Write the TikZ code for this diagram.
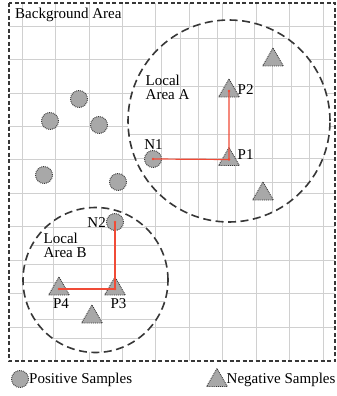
\documentclass[tikz,border=0pt]{standalone}
\usepackage{fontspec}
\setmainfont{Liberation Serif}
\usetikzlibrary{shapes.geometric}
\definecolor{gridgray}{RGB}{208,208,208}
\definecolor{samplegray}{RGB}{168,168,168}
\definecolor{edgegray}{RGB}{55,55,55}
\definecolor{linkred}{RGB}{240,75,55}
\begin{document}
\begin{tikzpicture}[x=1pt,y=-1pt,
  gridline/.style={draw=gridgray,line width=0.7pt},
  possample/.style={circle,fill=samplegray,draw=edgegray,densely dotted,line width=0.9pt,minimum size=17pt,inner sep=0pt},
  negsample/.style={regular polygon,regular polygon sides=3,fill=samplegray,draw=edgegray,densely dotted,line width=0.9pt,minimum size=24pt,inner sep=0pt},
  lbl/.style={inner sep=0pt,font=\fontsize{15}{14}\selectfont},
  area/.style={draw=edgegray,dash pattern=on 8pt off 4.5pt,line width=1.6pt},
  border/.style={draw=edgegray,dash pattern=on 4pt off 2.5pt,line width=1.2pt},
  link/.style={draw=linkred,line width=1.2pt}]
\useasboundingbox (0,0) rectangle (337,396);
% background grid
\begin{scope}
  \clip (9,3) rectangle (335,361);
  \foreach \i in {0,...,9} {
    \draw[gridline] ({22+33.45*\i},3) -- ({22+33.45*\i},361);
    \draw[gridline] (9,{26+33.45*\i}) -- (335,{26+33.45*\i});
  }
\end{scope}
% local area A
\coordinate (cA) at (229,121);
\fill[white] (cA) circle (101pt);
\begin{scope}
  \clip (cA) circle (101pt);
  \foreach \i in {0,...,8} {
    \draw[gridline] ({161.5+18.5*\i},15) -- ({161.5+18.5*\i},225);
  }
  \foreach \y in {38,86,134,158,182} {
    \draw[gridline] (125,\y) -- (335,\y);
  }
\end{scope}
\draw[area] (cA) circle (101pt);
% local area B
\coordinate (cB) at (95.5,280);
\fill[white] (cB) circle (72.5pt);
\begin{scope}
  \clip (cB) circle (72.5pt);
  \foreach \i in {0,...,6} {
    \draw[gridline] (20,{227+18.5*\i}) -- (170,{227+18.5*\i});
  }
  \foreach \x in {53,101} {
    \draw[gridline] (\x,205) -- (\x,355);
  }
\end{scope}
\draw[area] (cB) circle (72.5pt);
% outer border
\draw[border] (9,3) rectangle (335,361);
% positive samples
\node[possample] (s1) at (79,99) {};
\node[possample] (s2) at (50,121) {};
\node[possample] (s3) at (99,125) {};
\node[possample] (s4) at (44,175) {};
\node[possample] (s5) at (118,182) {};
\node[possample] (N1) at (153,159) {};
\node[possample] (N2) at (115,222) {};
% negative samples
\node[negsample] (P2) at (229,91) {};
\node[negsample] (P1) at (229,159.5) {};
\node[negsample] (t1) at (273,60) {};
\node[negsample] (t2) at (263,194) {};
\node[negsample] (P3) at (115,289) {};
\node[negsample] (P4) at (59,289) {};
\node[negsample] (t3) at (92,317) {};
% links
\draw[link] (N1.center) -- (P1.center) -- (P2.center);
\draw[link] (N2.center) -- (P3.center) -- (P4.center);
\foreach \n in {N1,P1,P2,N2,P3,P4} {
  \fill[linkred] (\n.center) circle (1.4pt);
}
% labels
\node[lbl,anchor=base west] (bg) at (15,18.3) {Background Area};
\node[lbl,anchor=north west,align=left] (locA) at (145.5,75) {Local\\Area A};
\node[lbl,anchor=north west,align=left] (locB) at (43.5,233) {Local\\Area B};
\node[lbl,anchor=west] (tP2) at (237.5,90) {P2};
\node[lbl,anchor=west] (tP1) at (237.5,155) {P1};
\node[lbl] (tN1) at (153.5,145) {N1};
\node[lbl,anchor=east] (tN2) at (106,222.5) {N2};
\node[lbl] (tP3) at (118.5,303.5) {P3};
\node[lbl] (tP4) at (61,303.5) {P4};
% legend
\node[possample] (legP) at (20,379) {};
\node[lbl,anchor=base west] (legPt) at (29,383.3) {Positive Samples};
\node[negsample] (legN) at (217,380.5) {};
\node[lbl,anchor=base west] (legNt) at (226.5,383) {Negative Samples};
\end{tikzpicture}
\end{document}
